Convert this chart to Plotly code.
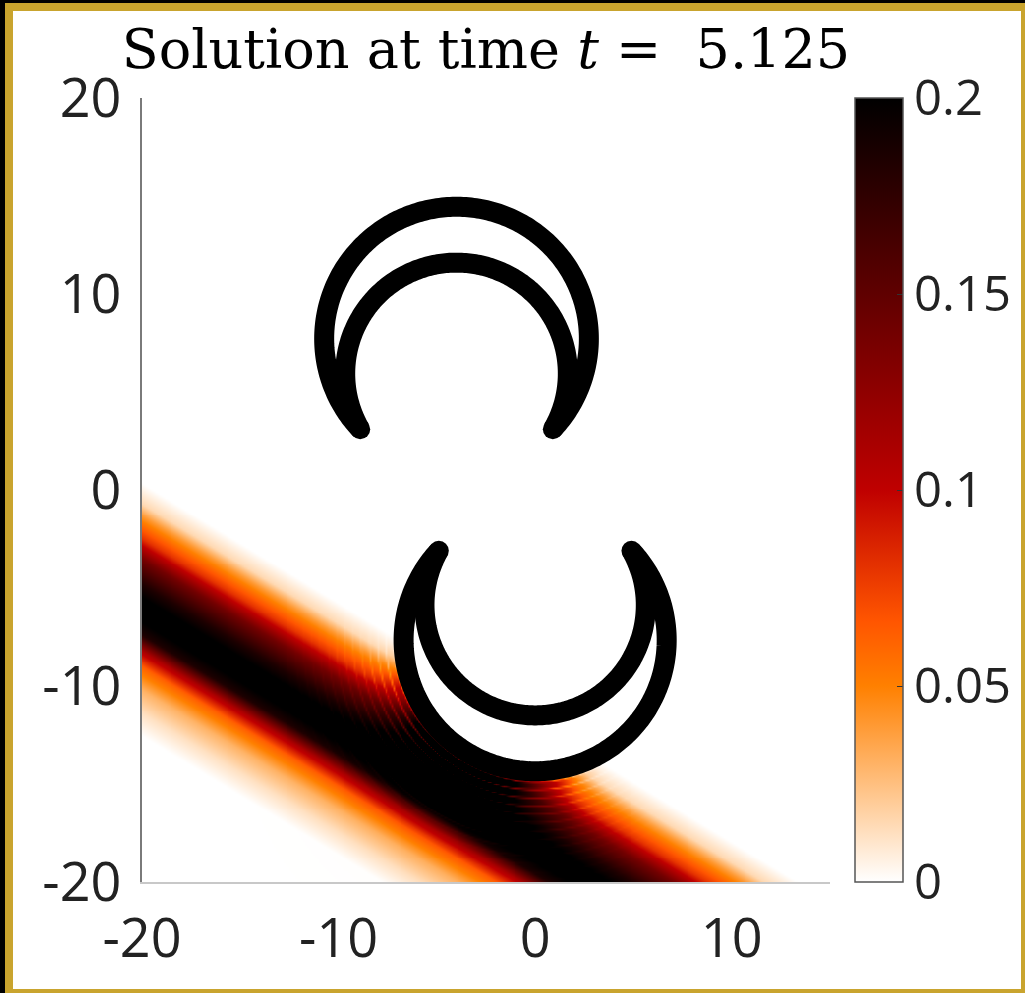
import numpy as np
import plotly.graph_objects as go

# ---------------- data ----------------
x_range = [-20, 15]
y_range = [-20, 20]
x_tickvals = [-20, -10, 0, 10]
x_ticktext = ["-20", "-10", "0", "10"]
y_tickvals = [-20, -10, 0, 10, 20]
y_ticktext = ["-20", "-10", "0", "10", "20"]
cbar_tickvals = [0, 0.05, 0.1, 0.15, 0.2]
cbar_ticktext = ["0", "0.05", "0.1", "0.15", "0.2"]
z_limits = [0.0, 0.2]
title_text = "Solution at time <i>t</i> =\u00a0\u00a05.125"

# travelling pulse: centre-line end points
band_x = [-20.0, 2.8]
band_y = [-6.1, -20.0]
# amplitude across the pulse (perpendicular distance, + = upper-right side)
profile_d = [-6.0, -5.5, -4.5, -3.5, -2.5, -1.8, -1.1, 0.0, 1.1, 2.2, 3.1, 4.1, 4.6, 5.5, 6.0]
profile_v = [0.0, 0.0, 0.012, 0.03, 0.062, 0.11, 0.185, 0.215, 0.185, 0.14, 0.08, 0.04, 0.015, 0.0, 0.0]

# crescent obstacles: centre x, tip y, outer-arc extreme y, inner-arc extreme y, tip half-width
cres_cx = [-4.0, 0.0]
cres_tip_y = [3.1, -3.1]
cres_outer_y = [14.45, -14.35]
cres_inner_y = [11.6, -11.5]
cres_half_w = [4.9, 4.9]

# scattered ripples next to the lower crescent
ripple_wavelength = 0.42
ripple_decay = 1.3
ripple_depth = 0.45

# ---------------- figure geometry (pixels) ----------------
W, H = 1025, 993
PL, PR, PT, PB = 142, 830, 98, 882


def px_x(px):
    return (px - PL) / (PR - PL)


def px_y(py):
    return (PB - py) / (PB - PT)


def circle_through(cx, tip_y, ext_y, hw):
    c = (ext_y ** 2 - tip_y ** 2 - hw ** 2) / (2 * (ext_y - tip_y))
    return c, abs(ext_y - c)


def arc(cx, tip_y, ext_y, hw, n=240):
    c, r = circle_through(cx, tip_y, ext_y, hw)
    ext = np.arctan2(ext_y - c, 0.0)
    a_r = np.arctan2(tip_y - c, hw)
    dlt = abs((a_r - ext + np.pi) % (2 * np.pi) - np.pi)
    a = ext + np.linspace(-dlt, dlt, n)
    return cx + r * np.cos(a), c + r * np.sin(a)


# ---------------- field ----------------
gx = np.round(np.arange(-20.0, 15.0001, 0.1), 3)
gy = np.round(np.arange(-20.0, 20.0001, 0.1), 3)
X, Y = np.meshgrid(gx, gy)

t = np.array([band_x[1] - band_x[0], band_y[1] - band_y[0]])
t = t / np.linalg.norm(t)
nb = np.array([-t[1], t[0]])
if nb[1] < 0:
    nb = -nb


def band_val(px, py):
    d = (px - band_x[0]) * nb[0] + (py - band_y[0]) * nb[1]
    return np.interp(d, profile_d, profile_v, left=0.0, right=0.0)


Z = band_val(X, Y)

# lower crescent: mask inside, add reflected ripples outside
i = 1
c_o, R_o = circle_through(cres_cx[i], cres_tip_y[i], cres_outer_y[i], cres_half_w[i])
dx, dy = X - cres_cx[i], Y - c_o
r = np.hypot(dx, dy) + 1e-9
nx, ny = dx / r, dy / r
s = r - R_o - 0.5
facing = np.clip(-(nx * nb[0] + ny * nb[1]), 0, None)
surf = band_val(cres_cx[i] + R_o * nx, c_o + R_o * ny)
env = np.where(s >= 0, np.exp(-np.clip(s, 0, None) / ripple_decay), 0.0)
refl = surf * facing * env
Z = Z + refl
ripple = ((1 + np.cos(2 * np.pi * np.clip(s, 0, None) / ripple_wavelength)) / 2) ** 6
Z = Z * (1 - ripple_depth * np.clip(facing * 1.5, 0, 1) * env * ripple)
Z = np.where(r < R_o, 0.0, Z)
Z = np.round(Z, 4)

colorscale = [
    [0.0, "rgb(255,255,255)"],
    [0.25, "rgb(255,128,0)"],
    [1 / 3, "rgb(255,85,0)"],
    [0.5, "rgb(191,0,0)"],
    [1.0, "rgb(0,0,0)"],
]

fig = go.Figure()
fig.add_trace(go.Heatmap(
    x=gx, y=gy, z=Z, zmin=z_limits[0], zmax=z_limits[1],
    colorscale=colorscale, zsmooth="best", hoverinfo="skip",
    colorbar=dict(
        thickness=48, thicknessmode="pixels",
        len=PB - PT, lenmode="pixels",
        x=px_x(855), xanchor="left", y=0.5, yanchor="middle",
        xpad=0, ypad=0,
        outlinecolor="#555555", outlinewidth=1.5,
        ticks="inside", ticklen=6, tickcolor="#333333",
        tickvals=cbar_tickvals, ticktext=cbar_ticktext,
        tickfont=dict(family="Open Sans", size=49, color="#222222"),
    ),
))

for i in range(len(cres_cx)):
    ox, oy = arc(cres_cx[i], cres_tip_y[i], cres_outer_y[i], cres_half_w[i])
    ix, iy = arc(cres_cx[i], cres_tip_y[i], cres_inner_y[i], cres_half_w[i])
    fig.add_trace(go.Scatter(
        x=list(ox) + [None] + list(ix), y=list(oy) + [None] + list(iy),
        mode="lines", line=dict(color="black", width=20, simplify=False),
        hoverinfo="skip", showlegend=False))
    fig.add_trace(go.Scatter(
        x=[cres_cx[i] - cres_half_w[i], cres_cx[i] + cres_half_w[i]],
        y=[cres_tip_y[i], cres_tip_y[i]],
        mode="markers", marker=dict(color="black", size=20, line=dict(width=0)),
        hoverinfo="skip", showlegend=False))

shapes = [
    dict(type="rect", xref="paper", yref="paper", layer="below",
         x0=px_x(0), x1=px_x(W), y0=px_y(H), y1=px_y(0),
         fillcolor="#c9a42e", line=dict(width=0)),
    dict(type="rect", xref="paper", yref="paper", layer="below",
         x0=px_x(13), x1=px_x(1021), y0=px_y(989), y1=px_y(11),
         fillcolor="white", line=dict(width=0)),
    dict(type="rect", xref="paper", yref="paper", layer="below",
         x0=px_x(0), x1=px_x(5), y0=px_y(H), y1=px_y(0),
         fillcolor="black", line=dict(width=0)),
    dict(type="rect", xref="paper", yref="paper", layer="below",
         x0=px_x(0), x1=px_x(W), y0=px_y(3), y1=px_y(0),
         fillcolor="black", line=dict(width=0)),
]

fig.update_layout(
    width=W, height=H,
    margin=dict(l=PL, r=W - PR, t=PT, b=H - PB, pad=0, autoexpand=False),
    paper_bgcolor="black", plot_bgcolor="white",
    shapes=shapes, showlegend=False,
    title=dict(text=title_text, x=0.5, xref="paper", xanchor="center",
               y=1 - 49 / H, yref="container", yanchor="middle",
               font=dict(family="DejaVu Serif", size=54, color="black")),
    xaxis=dict(range=x_range, showgrid=False, zeroline=False, automargin=False,
               showline=True, linecolor="#c8c8c8", linewidth=1.5,
               tickvals=x_tickvals, ticktext=x_ticktext, ticks="",
               ticklabelstandoff=8,
               tickfont=dict(family="Open Sans", size=54, color="#222222")),
    yaxis=dict(range=y_range, showgrid=False, zeroline=False, automargin=False,
               showline=True, linecolor="#7a7a7a", linewidth=1.5,
               tickvals=y_tickvals, ticktext=y_ticktext, ticks="",
               ticklabelstandoff=8,
               tickfont=dict(family="Open Sans", size=54, color="#222222")),
)

fig.write_html("out.html")
